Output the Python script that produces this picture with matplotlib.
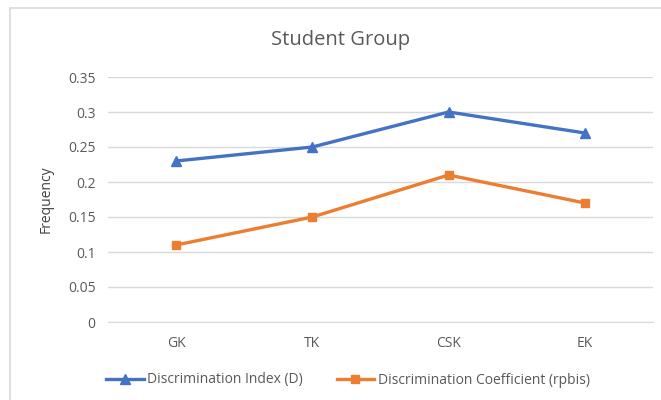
import matplotlib.pyplot as plt
from matplotlib.patches import Rectangle

groups = ['GK', 'TK', 'CSK', 'EK']
disc_index = [0.23, 0.25, 0.30, 0.27]
disc_coeff = [0.11, 0.15, 0.21, 0.17]
y_ticks = [0, 0.05, 0.1, 0.15, 0.2, 0.25, 0.3, 0.35]
y_labels = ['0', '0.05', '0.1', '0.15', '0.2', '0.25', '0.3', '0.35']

plt.rcParams['font.family'] = ['Open Sans', 'DejaVu Sans']
text_col = '#595959'
grid_col = '#D9D9D9'

fig = plt.figure(figsize=(6.61, 4.0), dpi=100)

# chart frame
fig.patches.append(Rectangle((10 / 661, -0.05), 1.2, 1 - 8 / 400 + 0.05,
                             transform=fig.transFigure, fill=False,
                             edgecolor=grid_col, linewidth=1.2))

ax = fig.add_axes([108 / 661, 1 - 322 / 400, 545 / 661, 245 / 400])
x = range(len(groups))
ax.plot(x, disc_index, color='#4472C4', lw=2.4, marker='^', markersize=7,
        label='Discrimination Index (D)')
ax.plot(x, disc_coeff, color='#ED7D31', lw=2.4, marker='s', markersize=6,
        label='Discrimination Coefficient (rpbis)')

ax.set_xlim(-0.5, 3.5)
ax.set_ylim(0, 0.35)
ax.set_xticks(list(x))
ax.set_xticklabels(groups)
ax.set_yticks(y_ticks)
ax.set_yticklabels(y_labels)
ax.tick_params(length=0, labelsize=10, colors=text_col, pad=9)
ax.tick_params(axis='x', pad=10)
ax.grid(axis='y', color=grid_col, lw=1)
ax.set_axisbelow(True)
for s in ['top', 'right', 'left']:
    ax.spines[s].set_visible(False)
ax.spines['bottom'].set_color(grid_col)

ax.set_ylabel('Frequency', fontsize=10, color='#404040', labelpad=10)
fig.text(341 / 661, 1 - 40 / 400, 'Student Group', ha='center', va='center',
         fontsize=14.5, color=text_col)

fig.legend(loc='center', bbox_to_anchor=(348 / 661, 1 - 380 / 400), ncol=2,
           frameon=False, fontsize=10, labelcolor=text_col, handlelength=2.7,
           handletextpad=0.25, columnspacing=2.4)

plt.savefig('out.png', dpi=100)
